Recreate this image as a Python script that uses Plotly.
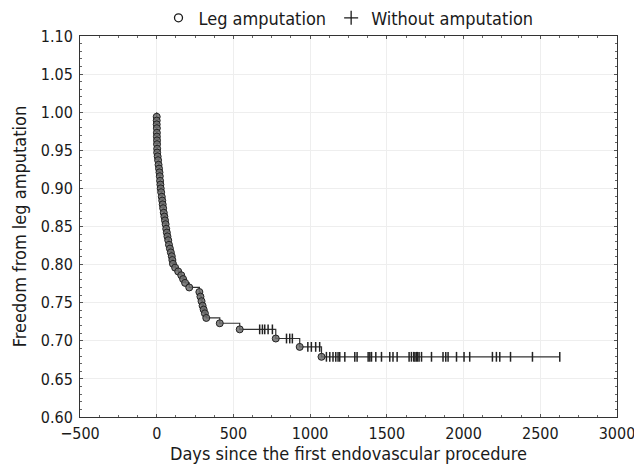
import numpy as np
import plotly.graph_objects as go

# Events (leg amputation): day, survival after event
event_days = [0, 0, 0, 1, 1, 1, 2, 2, 3, 3,
              6, 9, 12, 15, 18, 20, 22, 24, 26, 29,
              33, 36, 39, 42, 46, 50, 54, 58, 62, 66,
              70, 75, 80, 86, 92, 98, 102, 106,
              120, 140, 160, 172, 185, 212,
              278, 285, 292, 299, 306, 314, 323,
              411, 541, 776, 932, 1074]
event_surv = [0.994, 0.989, 0.984, 0.979, 0.973, 0.968, 0.963, 0.958, 0.952, 0.947,
              0.942, 0.937, 0.931, 0.926, 0.921, 0.916, 0.910, 0.905, 0.900, 0.895,
              0.889, 0.884, 0.879, 0.874, 0.868, 0.863, 0.858, 0.853, 0.847, 0.842,
              0.837, 0.832, 0.826, 0.821, 0.816, 0.811, 0.806, 0.801,
              0.796, 0.791, 0.786, 0.781, 0.776, 0.770,
              0.764, 0.758, 0.752, 0.746, 0.741, 0.736, 0.730,
              0.723, 0.715, 0.703, 0.692, 0.679]

# Censored (without amputation): day
censor_days = [671, 689, 704, 726, 754,
               846, 867, 884,
               985, 1008, 1036, 1062,
               1106, 1128, 1149, 1167, 1182, 1193, 1226, 1291, 1306, 1378,
               1389, 1400, 1428, 1465, 1519, 1540, 1567, 1645, 1660, 1675,
               1683, 1693, 1700, 1710, 1726, 1791, 1866, 1884, 1899, 1954,
               2003, 2040, 2188, 2214, 2236, 2306, 2449, 2627]

x_ticks = [-500, 0, 500, 1000, 1500, 2000, 2500, 3000]
y_ticks = [0.60, 0.65, 0.70, 0.75, 0.80, 0.85, 0.90, 0.95, 1.00, 1.05, 1.10]

ev_d = np.array(event_days, dtype=float)
ev_s = np.array(event_surv)
ce_d = np.array(censor_days, dtype=float)
idx = np.searchsorted(ev_d, ce_d, side="right") - 1
ce_s = np.where(idx >= 0, ev_s[np.clip(idx, 0, None)], 1.0)

# step line through all points
all_d = np.concatenate([[0.0], ev_d, ce_d])
all_s = np.concatenate([[1.0], ev_s, ce_s])
order = np.argsort(all_d, kind="stable")
line_d = all_d[order]
line_s = all_s[order]

FONT = "DejaVu Sans Condensed, Liberation Sans Narrow, sans-serif"
INK = "#1a1a1a"

fig = go.Figure()
fig.add_trace(go.Scatter(x=line_d, y=line_s, mode="lines", line=dict(color="#333333", width=1.2, shape="hv"),
                         showlegend=False, hoverinfo="skip"))
fig.add_trace(go.Scatter(x=ce_d, y=ce_s, mode="markers", showlegend=False,
                         marker=dict(symbol="line-ns", size=7, line=dict(color="#222222", width=1.5))))
fig.add_trace(go.Scatter(x=ev_d, y=ev_s, mode="markers", showlegend=False,
                         marker=dict(symbol="circle", size=7, color="rgba(110,110,110,0.85)",
                                     line=dict(color="#222222", width=1))))
# legend entries
fig.add_trace(go.Scatter(x=[None], y=[None], mode="markers", name="Leg amputation",
                         marker=dict(symbol="circle-open", size=8, color=INK, line=dict(width=1.3))))
fig.add_trace(go.Scatter(x=[None], y=[None], mode="markers", name="Without amputation",
                         marker=dict(symbol="cross-thin", size=10, line=dict(color=INK, width=1.3))))

axis_common = dict(showline=True, linecolor="#333333", linewidth=1, mirror="ticks",
                   ticks="inside", ticklen=3, tickcolor="#555555", zeroline=False,
                   showgrid=True, gridcolor="#eeeeee", gridwidth=1, automargin=False,
                   ticklabeloverflow="allow",
                   tickfont=dict(family=FONT, size=16, color=INK))

fig.update_xaxes(range=[-500, 3000], tickvals=x_ticks, **axis_common, ticklabelstandoff=2,
                 minor=dict(dtick=125, ticks="inside", ticklen=2, tickcolor="#666666", showgrid=False),
                 title=dict(text="Days since the first endovascular procedure",
                            font=dict(family=FONT, size=18, color=INK), standoff=0))
fig.update_yaxes(range=[0.60, 1.10], tickvals=y_ticks, tickformat=".2f", **axis_common,
                 ticklabelstandoff=3,
                 minor=dict(dtick=0.01, ticks="inside", ticklen=2, tickcolor="#666666", showgrid=False),
                 title=dict(text="Freedom from leg amputation",
                            font=dict(family=FONT, size=18, color=INK), standoff=9))

fig.update_layout(
    width=634, height=466,
    margin=dict(l=80, r=17, t=36, b=49, autoexpand=False),
    paper_bgcolor="white", plot_bgcolor="white",
    font=dict(family=FONT, color=INK),
    legend=dict(orientation="h", x=0.5, xanchor="center", y=1.047, yanchor="middle",
                font=dict(family=FONT, size=18, color=INK), itemwidth=30,
                bgcolor="rgba(0,0,0,0)", tracegroupgap=0),
)

fig.write_html("out.html", config={"displayModeBar": False},
               post_script="document.body.style.margin='0';document.body.style.padding='0';")
